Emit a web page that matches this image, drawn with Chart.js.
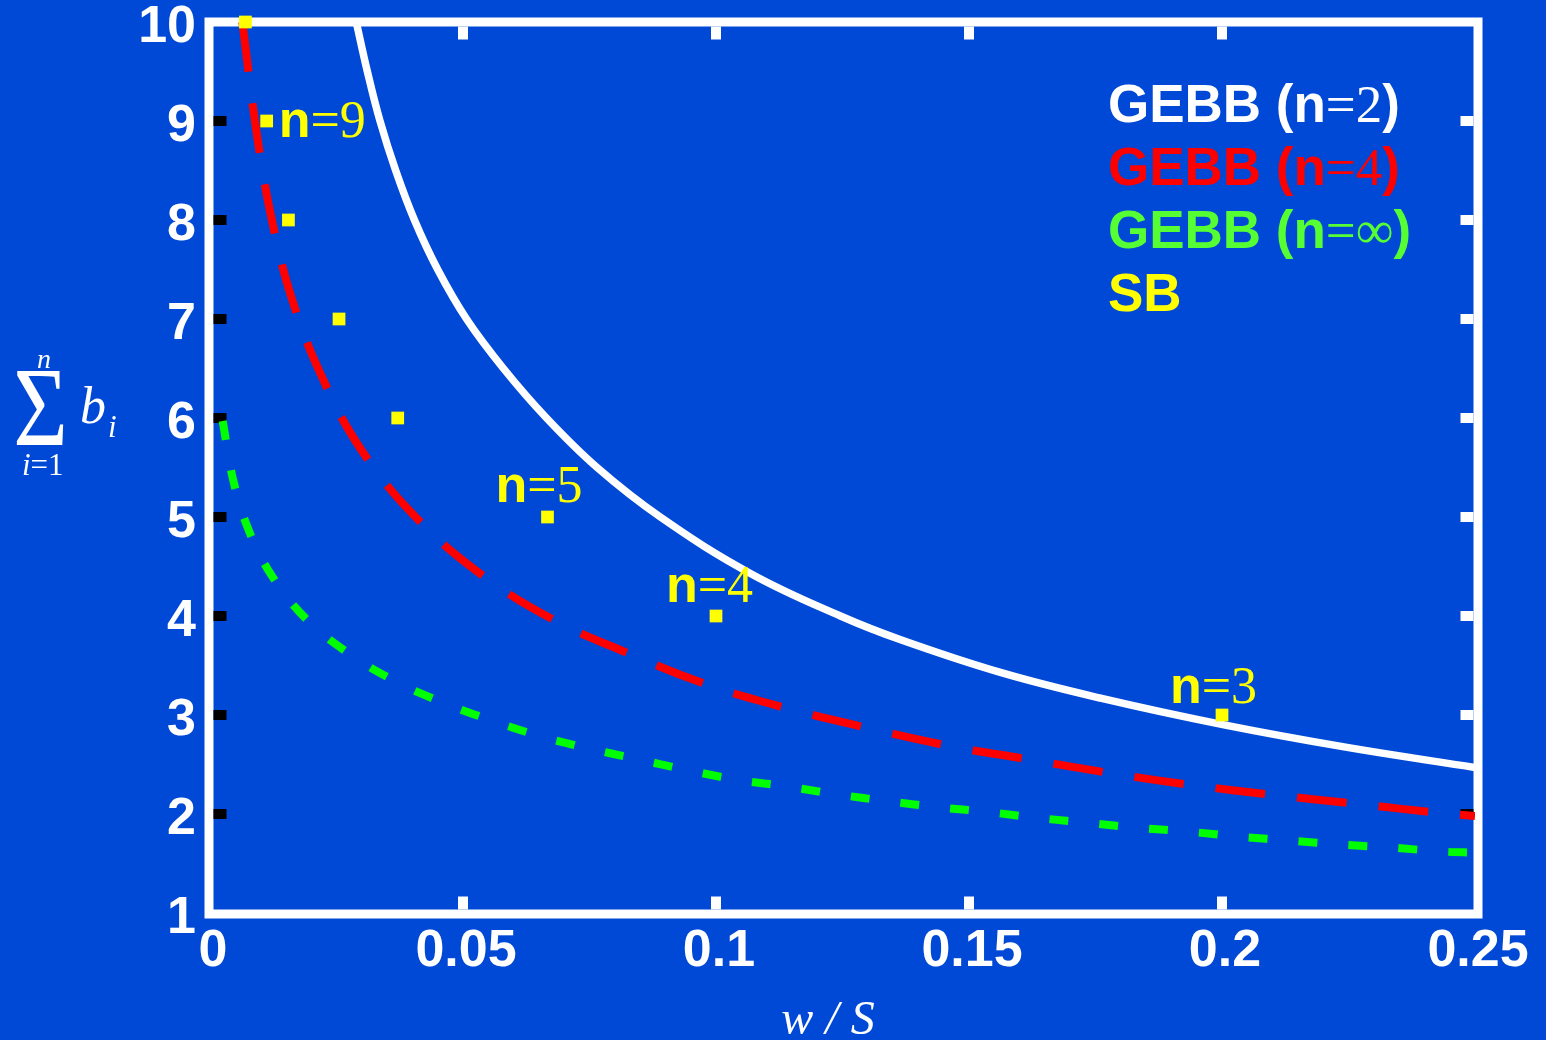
<!DOCTYPE html>
<html>
<head>
<meta charset="utf-8">
<script src="https://cdn.jsdelivr.net/npm/chart.js@4.4.1/dist/chart.umd.min.js"></script>
<style>
  html, body { margin: 0; padding: 0; background: #0049d6; overflow: hidden; }
  canvas { display: block; }
</style>
</head>
<body>
<canvas id="chart" width="1546" height="1040"></canvas>
<script>
// axis ticks
var xTickValues = [0, 0.05, 0.1, 0.15, 0.2, 0.25];
var xTickLabels = ["0", "0.05", "0.1", "0.15", "0.2", "0.25"];

// GEBB (n=2) - solid white
var gebb2X = [0.0289, 0.0311, 0.0336, 0.0367, 0.0404, 0.0450, 0.0507, 0.0580, 0.0665, 0.0765, 0.0890, 0.1068, 0.1246, 0.1365, 0.1562, 0.176, 0.2004, 0.225, 0.25];
var gebb2Y = [10, 9.5, 9.0, 8.5, 8.0, 7.5, 7.0, 6.5, 6.0, 5.5, 5.0, 4.43, 4.0, 3.76, 3.43, 3.17, 2.90, 2.67, 2.47];

// GEBB (n=4) - red dashed
var gebb4X = [0.0064, 0.0091, 0.0119, 0.0159, 0.0219, 0.030, 0.041, 0.0536, 0.0676, 0.0828, 0.0981, 0.1139, 0.1299, 0.1459, 0.162, 0.1783, 0.1944, 0.2106, 0.2271, 0.2431, 0.25];
var gebb4Y = [10, 8.92, 8.08, 7.25, 6.44, 5.67, 4.98, 4.42, 3.97, 3.62, 3.31, 3.07, 2.87, 2.69, 2.55, 2.41, 2.29, 2.19, 2.10, 2.01, 1.98];

// GEBB (n=inf) - green dotted
var gebbInfX = [0.0025, 0.0046, 0.0077, 0.0123, 0.019, 0.0272, 0.0359, 0.0453, 0.0548, 0.0644, 0.0742, 0.084, 0.0938, 0.1037, 0.1138, 0.1237, 0.1338, 0.1437, 0.1537, 0.1637, 0.1736, 0.1836, 0.1937, 0.2037, 0.2137, 0.2237, 0.2337, 0.2438, 0.25];
var gebbInfY = [5.97, 5.37, 4.86, 4.40, 3.97, 3.63, 3.36, 3.14, 2.96, 2.80, 2.67, 2.56, 2.45, 2.35, 2.28, 2.20, 2.13, 2.07, 2.02, 1.96, 1.91, 1.86, 1.82, 1.77, 1.73, 1.69, 1.66, 1.62, 1.61];

// SB - yellow squares
var sbX = [0.0070, 0.0112, 0.0155, 0.0255, 0.0371, 0.0667, 0.1, 0.2];
var sbY = [10, 9, 8, 7, 6, 5, 4, 3];
var sbNotes = [null, "n=9", null, null, null, "n=5", "n=4", "n=3"];

var seriesLabels = ["GEBB (n=2)", "GEBB (n=4)", "GEBB (n=\u221E)", "SB"];
var legendColors = ["#ffffff", "#ff0000", "#55ff33", "#ffff00"];

function toPoints(xs, ys) {
  return xs.map(function (x, i) { return { x: x, y: ys[i] }; });
}

var BG = "#0049d6";
var SANS = "'Liberation Sans', Arial, sans-serif";
var SERIF = "'Liberation Serif', 'Times New Roman', serif";

// "GEBB (n" bold sans, "=2" plain serif, ")" bold sans
function drawMixed(ctx, text, x, y, size, color) {
  var parts = text.split(/(=[^)]+)/);
  ctx.fillStyle = color;
  ctx.textAlign = "left";
  ctx.textBaseline = "alphabetic";
  parts.forEach(function (p) {
    if (!p) return;
    ctx.font = p.charAt(0) === "=" ? size + "px " + SERIF : "bold " + size + "px " + SANS;
    ctx.fillText(p, x, y);
    x += ctx.measureText(p).width;
  });
}

var decor = {
  id: "decor",
  beforeDraw: function (chart) {
    var ctx = chart.ctx;
    ctx.save();
    ctx.fillStyle = BG;
    ctx.fillRect(0, 0, chart.width, chart.height);
    ctx.restore();
  },
  beforeDatasetsDraw: function (chart) {
    var ctx = chart.ctx, a = chart.chartArea;
    var xs = chart.scales.x, ys = chart.scales.y;
    var L = a.left - 1, T = a.top, R = a.right + 3, B = a.bottom + 1;
    ctx.save();
    // frame
    ctx.strokeStyle = "#ffffff";
    ctx.lineWidth = 9;
    ctx.strokeRect(L, T, R - L, B - T);
    // inward ticks
    var half = 4.5, len = 13, th = 10;
    for (var v = 2; v <= 9; v++) {
      var py = ys.getPixelForValue(v);
      ctx.fillStyle = "#000000";
      ctx.fillRect(L + half, py - th / 2, len, th);
      ctx.fillStyle = v === 2 ? "#000000" : "#ffffff";
      ctx.fillRect(R - half - len, py - th / 2, len, th);
    }
    ctx.fillStyle = "#ffffff";
    xTickValues.slice(1, -1).forEach(function (v) {
      var px = xs.getPixelForValue(v);
      ctx.fillRect(px - th / 2, T + half, th, len);
      ctx.fillRect(px - th / 2, B - half - len, th, len);
    });
    ctx.restore();
  },
  afterDatasetsDraw: function (chart) {
    var ctx = chart.ctx;
    ctx.save();
    // n=.. notes beside the SB squares
    var offs = { 1: [12, 15.5], 5: [-52, -15], 6: [-50, -14.5], 7: [-52, -12.5] };
    var meta = chart.getDatasetMeta(3);
    sbNotes.forEach(function (t, i) {
      if (!t) return;
      var el = meta.data[i];
      drawMixed(ctx, t, el.x + offs[i][0], el.y + offs[i][1], 52, "#ffff00");
    });
    // legend
    seriesLabels.forEach(function (t, i) {
      drawMixed(ctx, t, 1108, 122 + i * 63, 53, legendColors[i]);
    });
    // x axis label
    ctx.fillStyle = "#ffffff";
    ctx.textAlign = "center";
    ctx.textBaseline = "alphabetic";
    ctx.font = "italic 48px " + SERIF;
    ctx.fillText("w / S", 828, 1034);
    // y axis label: sum_{i=1}^{n} b_i
    ctx.save();
    ctx.translate(40.5, 445);
    ctx.scale(0.83, 1);
    ctx.font = "113px " + SERIF;
    ctx.fillText("\u03A3", 0, 0);
    ctx.restore();
    ctx.font = "italic 28px " + SERIF;
    ctx.fillText("n", 44, 368);
    ctx.textAlign = "left";
    ctx.font = "italic 31px " + SERIF;
    ctx.fillText("i", 22, 475);
    var w = ctx.measureText("i").width;
    ctx.font = "31px " + SERIF;
    ctx.fillText("=1", 22 + w, 475);
    ctx.font = "italic 52px " + SERIF;
    ctx.fillText("b", 80, 423);
    ctx.font = "italic 31px " + SERIF;
    ctx.fillText("i", 108, 437);
    ctx.restore();
  }
};

var tickFont = { family: SANS, size: 52, weight: "bold" };

var ctx = document.getElementById("chart").getContext("2d");
var myChart = new Chart(ctx, {
  type: "scatter",
  data: {
    datasets: [
      {
        label: seriesLabels[0],
        data: toPoints(gebb2X, gebb2Y),
        showLine: true,
        borderColor: "#ffffff",
        borderWidth: 7.5,
        pointRadius: 0,
        tension: 0.4,
        order: 1,
      },
      {
        label: seriesLabels[1],
        data: toPoints(gebb4X, gebb4Y),
        showLine: true,
        borderColor: "#ff0000",
        borderWidth: 8,
        borderDash: [50, 32],
        pointRadius: 0,
        tension: 0.4,
        order: 2,
      },
      {
        label: seriesLabels[2],
        data: toPoints(gebbInfX, gebbInfY),
        showLine: true,
        borderColor: "#00ff00",
        borderWidth: 8,
        borderDash: [19, 31],
        pointRadius: 0,
        tension: 0.4,
        order: 3,
      },
      {
        label: seriesLabels[3],
        data: toPoints(sbX, sbY),
        showLine: false,
        pointStyle: "rect",
        pointRadius: 9,
        borderWidth: 0,
        backgroundColor: "#ffff00",
        borderColor: "#ffff00",
        clip: false,
        order: 0,
      },
    ],
  },
  options: {
    responsive: false,
    animation: false,
    devicePixelRatio: 1,
    layout: { padding: { left: 0, top: 22, right: 71, bottom: 0 } },
    plugins: {
      legend: { display: false },
      tooltip: { enabled: false },
    },
    scales: {
      x: {
        type: "linear",
        min: 0,
        max: 0.25,
        afterBuildTicks: function (s) {
          s.ticks = xTickValues.map(function (v) { return { value: v }; });
        },
        afterFit: function (s) {
          s.height = 127;
          s.paddingLeft = 0;
          s.paddingRight = 0;
        },
        ticks: {
          callback: function (v, i) { return xTickLabels[i]; },
          font: tickFont,
          color: "#ffffff",
          padding: 7,
          labelOffset: 3,
          maxRotation: 0,
          autoSkip: false,
        },
        grid: { display: false, drawTicks: false },
        border: { display: false },
      },
      y: {
        min: 1,
        max: 10,
        afterFit: function (s) {
          s.width = 210;
          s.paddingTop = 0;
          s.paddingBottom = 0;
        },
        ticks: {
          stepSize: 1,
          font: tickFont,
          color: "#ffffff",
          padding: 14,
          labelOffset: 6,
        },
        grid: { display: false, drawTicks: false },
        border: { display: false },
      },
    },
  },
  plugins: [decor],
});
</script>
</body>
</html>
